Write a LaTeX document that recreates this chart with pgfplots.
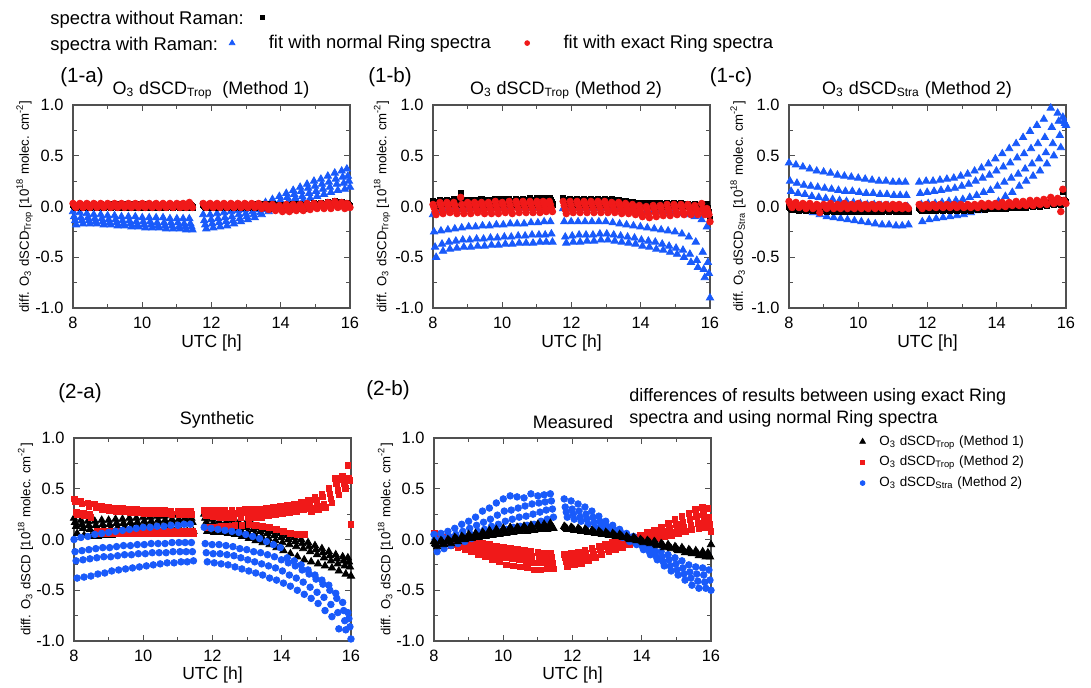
\documentclass[border=0pt]{standalone}
\usepackage{fontspec}
\setmainfont{Liberation Sans}
\usepackage{pgfplots}
\usepackage{pgfplotstable}
\pgfplotsset{compat=1.18}
\definecolor{mblue}{RGB}{25,90,250}
\definecolor{mred}{RGB}{240,25,25}
\definecolor{axgray}{RGB}{80,80,80}

\pgfplotsset{
 panel/.style={
  scale only axis, width=138.5pt, height=101.5pt, anchor=south west,
  xmin=8, xmax=16, ymin=-1, ymax=1,
  xtick={8,10,12,14,16}, minor xtick={9,11,13,15},
  ytick={-1,-0.5,0,0.5,1}, minor ytick={-0.75,-0.25,0.25,0.75},
  tick align=inside, major tick length=3pt, minor tick length=1.8pt,
  axis line style={axgray, line width=0.6pt},
  tick style={axgray, line width=0.5pt},
  /pgf/number format/assume math mode=true,
  y tick label style={/pgf/number format/.cd, fixed, fixed zerofill, precision=1, /tikz/.cd, xshift=-1.2pt},
  x tick label style={yshift=-1pt},
  tick label style={font=\fontsize{8.2}{9.5}\selectfont},
  ylabel style={font=\fontsize{6.6}{7.5}\selectfont, at={(axis description cs:-0.175,0.5)}, anchor=center},
  xlabel style={font=\fontsize{8.75}{10}\selectfont, anchor=center},
  xlabel={UTC [h]},
  clip=false,
  legend image code/.code={\draw[##1] plot coordinates {(0pt,0pt)};},
 },
 btri/.style={only marks, mark=triangle*, mark size=2.1pt, color=mblue},
 rcirc/.style={only marks, mark=*, mark size=1.65pt, color=mred},
 ksq/.style={only marks, mark=square*, mark size=1.35pt, color=black},
 ktri/.style={only marks, mark=triangle*, mark size=2.1pt, color=black},
 rsq/.style={only marks, mark=square*, mark size=1.45pt, color=mred},
 bcirc/.style={only marks, mark=*, mark size=1.65pt, color=mblue},
 btrileg/.style={only marks, mark=triangle*, mark size=1.6pt, color=mblue},
 rcircleg/.style={only marks, mark=*, mark size=1.2pt, color=mred},
 ksqleg/.style={only marks, mark=square*, mark size=1.1pt, color=black},
 ktrileg/.style={only marks, mark=triangle*, mark size=1.6pt, color=black},
 rsqleg/.style={only marks, mark=square*, mark size=1.1pt, color=mred},
 bcircleg/.style={only marks, mark=*, mark size=1.2pt, color=mblue},
}

\newcommand{\fourpts}[3]{%
 \addplot[#3, forget plot] table[x=t, y=#21] {#1};
 \addplot[#3, forget plot] table[x expr=\thisrow{t}+0.03, y=#22] {#1};
 \addplot[#3, forget plot] table[x expr=\thisrow{t}+0.06, y=#23] {#1};
 \addplot[#3, forget plot] table[x expr=\thisrow{t}+0.09, y=#24] {#1};
}

\begin{document}

% Panel (1-a): O3 dSCD_Trop (Method 1); b = normal Ring (blue), k = without Raman (black), r = exact Ring (red)
\pgfplotstableread{
t b1 b2 b3 b4 k1 k2 k3 k4 r1 r2 r3 r4
8.00 -0.05 -0.10 -0.14 -0.18 0.02 0.01 0.00 -0.01 0.03 0.02 0.00 -0.01
8.20 -0.06 -0.11 -0.14 -0.17 0.02 0.01 0.00 -0.01 0.03 0.02 0.01 -0.01
8.40 -0.07 -0.11 -0.14 -0.17 0.02 0.01 0.00 -0.01 0.03 0.02 0.00 -0.01
8.60 -0.08 -0.12 -0.15 -0.17 0.02 0.01 0.00 -0.01 0.03 0.02 0.01 -0.01
8.80 -0.08 -0.12 -0.15 -0.18 0.02 0.01 0.00 -0.01 0.03 0.02 0.00 -0.01
9.00 -0.09 -0.13 -0.16 -0.18 0.02 0.01 0.00 -0.01 0.03 0.02 0.01 -0.01
9.20 -0.09 -0.13 -0.16 -0.19 0.02 0.01 0.00 -0.01 0.03 0.02 0.00 -0.01
9.40 -0.10 -0.14 -0.17 -0.19 0.02 0.01 0.00 -0.01 0.03 0.02 0.01 -0.01
9.60 -0.10 -0.14 -0.17 -0.20 0.02 0.01 0.00 -0.01 0.03 0.02 0.00 -0.01
9.80 -0.10 -0.15 -0.18 -0.20 0.02 0.01 0.00 -0.01 0.03 0.02 0.01 -0.01
10.00 -0.11 -0.15 -0.18 -0.21 0.02 0.01 0.00 -0.01 0.03 0.02 0.00 -0.01
10.20 -0.11 -0.15 -0.18 -0.21 0.02 0.01 0.00 -0.01 0.03 0.02 0.01 -0.01
10.40 -0.11 -0.16 -0.19 -0.21 0.02 0.01 0.00 -0.01 0.03 0.02 0.00 -0.01
10.60 -0.11 -0.16 -0.19 -0.22 0.02 0.01 0.00 -0.01 0.03 0.02 0.01 -0.01
10.80 -0.12 -0.16 -0.19 -0.22 0.02 0.01 0.00 -0.01 0.03 0.02 0.00 -0.01
11.00 -0.12 -0.16 -0.20 -0.22 0.02 0.01 0.00 -0.01 0.03 0.02 0.01 -0.01
11.18 -0.12 -0.17 -0.20 -0.23 0.02 0.01 0.00 -0.01 0.03 0.02 0.00 -0.01
11.36 -0.12 -0.17 -0.20 -0.23 0.02 0.01 0.00 -0.01 0.04 0.02 0.01 -0.01
11.76 -0.08 -0.14 -0.18 -0.22 0.02 0.01 0.00 -0.01 0.03 0.02 0.00 -0.01
11.96 -0.08 -0.13 -0.17 -0.21 0.02 0.01 0.00 -0.01 0.03 0.02 0.01 -0.01
12.16 -0.07 -0.12 -0.16 -0.20 0.02 0.01 0.00 -0.01 0.03 0.02 0.00 -0.01
12.36 -0.06 -0.11 -0.15 -0.19 0.02 0.01 0.00 -0.01 0.03 0.02 0.01 -0.01
12.56 -0.05 -0.10 -0.14 -0.17 0.02 0.01 0.00 -0.01 0.03 0.02 0.00 -0.01
12.76 -0.04 -0.08 -0.12 -0.15 0.02 0.01 0.00 -0.01 0.03 0.02 0.01 -0.01
12.96 -0.03 -0.07 -0.10 -0.13 0.02 0.01 0.00 -0.01 0.03 0.02 0.00 -0.01
13.16 -0.01 -0.05 -0.08 -0.11 0.02 0.01 0.00 -0.01 0.03 0.02 0.01 -0.01
13.36 0.01 -0.03 -0.06 -0.08 0.02 0.01 0.00 -0.01 0.03 0.01 0.00 -0.02
13.56 0.04 0.00 -0.03 -0.05 0.02 0.00 -0.01 -0.02 0.02 0.01 -0.01 -0.03
13.76 0.07 0.03 0.00 -0.02 0.02 0.00 -0.01 -0.02 0.02 0.00 -0.02 -0.04
13.96 0.10 0.06 0.03 0.00 0.01 0.00 -0.01 -0.03 0.01 -0.01 -0.03 -0.05
14.16 0.13 0.09 0.05 0.02 0.01 0.00 -0.01 -0.03 0.02 0.00 -0.03 -0.05
14.36 0.16 0.12 0.08 0.04 0.02 0.00 -0.01 -0.02 0.02 0.00 -0.02 -0.04
14.56 0.19 0.15 0.10 0.06 0.02 0.01 0.00 -0.02 0.02 0.00 -0.02 -0.04
14.76 0.22 0.18 0.13 0.08 0.02 0.01 0.00 -0.01 0.03 0.01 -0.01 -0.03
14.96 0.25 0.20 0.15 0.10 0.03 0.02 0.01 0.00 0.03 0.01 0.00 -0.02
15.16 0.27 0.22 0.17 0.12 0.03 0.02 0.01 0.00 0.03 0.02 0.00 -0.02
15.36 0.30 0.24 0.19 0.14 0.04 0.03 0.02 0.01 0.04 0.02 0.00 -0.02
15.56 0.33 0.27 0.22 0.16 0.05 0.04 0.02 0.01 0.05 0.03 0.01 -0.01
15.76 0.35 0.29 0.23 0.17 0.04 0.03 0.02 0.01 0.04 0.02 0.00 -0.02
15.91 0.37 0.30 0.25 0.19 0.03 0.02 0.01 0.00 0.03 0.02 0.00 -0.01
}\tabA

% Panel (1-b): O3 dSCD_Trop (Method 2)
\pgfplotstableread{
t b1 b2 b3 b4 k1 k2 k3 k4 r1 r2 r3 r4
8.00 -0.08 -0.25 -0.40 -0.50 0.05 0.04 0.02 0.00 0.02 -0.01 -0.05 -0.08
8.20 -0.05 -0.24 -0.37 -0.44 0.06 0.05 0.03 0.02 0.04 0.01 -0.03 -0.07
8.40 -0.04 -0.23 -0.35 -0.42 0.06 0.05 0.03 0.02 0.04 0.01 -0.03 -0.06
8.60 -0.03 -0.22 -0.34 -0.41 0.07 0.05 0.03 0.02 0.04 0.01 -0.03 -0.07
8.80 -0.03 -0.21 -0.33 -0.40 0.13 0.06 0.04 0.02 0.09 0.02 -0.03 -0.07
9.00 -0.03 -0.20 -0.33 -0.40 0.06 0.05 0.03 0.02 0.04 0.01 -0.03 -0.07
9.20 -0.02 -0.20 -0.32 -0.39 0.06 0.05 0.03 0.02 0.04 0.01 -0.03 -0.06
9.40 -0.02 -0.19 -0.32 -0.39 0.07 0.05 0.03 0.02 0.04 0.01 -0.03 -0.07
9.60 -0.02 -0.19 -0.31 -0.38 0.06 0.05 0.03 0.02 0.04 0.01 -0.03 -0.07
9.80 -0.02 -0.18 -0.31 -0.38 0.07 0.05 0.03 0.02 0.05 0.01 -0.03 -0.07
10.00 -0.02 -0.18 -0.30 -0.37 0.07 0.05 0.03 0.02 0.04 0.01 -0.03 -0.06
10.20 -0.02 -0.17 -0.30 -0.37 0.07 0.05 0.03 0.02 0.05 0.01 -0.03 -0.07
10.40 -0.01 -0.17 -0.29 -0.36 0.07 0.06 0.04 0.02 0.05 0.02 -0.02 -0.06
10.60 -0.01 -0.17 -0.29 -0.36 0.07 0.06 0.04 0.02 0.05 0.02 -0.02 -0.06
10.80 -0.01 -0.16 -0.28 -0.36 0.08 0.06 0.04 0.02 0.05 0.02 -0.02 -0.06
11.00 -0.01 -0.16 -0.28 -0.35 0.08 0.06 0.04 0.02 0.05 0.02 -0.02 -0.06
11.18 -0.01 -0.15 -0.28 -0.35 0.08 0.06 0.04 0.02 0.05 0.02 -0.02 -0.05
11.36 -0.01 -0.15 -0.27 -0.35 0.08 0.06 0.04 0.02 0.05 0.02 -0.02 -0.05
11.76 -0.02 -0.15 -0.30 -0.36 0.08 0.06 0.04 0.02 0.05 0.01 -0.03 -0.07
11.96 -0.02 -0.15 -0.29 -0.35 0.07 0.06 0.04 0.02 0.05 0.01 -0.03 -0.06
12.16 -0.02 -0.15 -0.28 -0.35 0.07 0.06 0.04 0.02 0.05 0.02 -0.02 -0.06
12.36 -0.02 -0.15 -0.28 -0.34 0.07 0.06 0.04 0.02 0.05 0.02 -0.02 -0.06
12.56 -0.02 -0.15 -0.28 -0.34 0.07 0.06 0.04 0.02 0.05 0.02 -0.02 -0.06
12.76 -0.02 -0.15 -0.27 -0.33 0.07 0.06 0.04 0.02 0.05 0.02 -0.02 -0.06
12.96 -0.02 -0.15 -0.27 -0.33 0.07 0.06 0.04 0.02 0.05 0.02 -0.02 -0.06
13.16 -0.02 -0.16 -0.28 -0.34 0.07 0.05 0.03 0.02 0.04 0.01 -0.03 -0.06
13.36 -0.03 -0.17 -0.29 -0.35 0.06 0.05 0.03 0.01 0.04 0.01 -0.03 -0.07
13.56 -0.03 -0.18 -0.30 -0.36 0.05 0.04 0.02 0.01 0.03 0.00 -0.04 -0.07
13.76 -0.04 -0.19 -0.31 -0.37 0.04 0.03 0.02 0.00 0.02 -0.01 -0.05 -0.08
13.96 -0.04 -0.20 -0.33 -0.39 0.03 0.02 0.01 0.00 0.01 -0.03 -0.07 -0.10
14.16 -0.05 -0.21 -0.34 -0.40 0.03 0.02 0.01 0.00 0.00 -0.03 -0.07 -0.11
14.36 -0.05 -0.22 -0.35 -0.42 0.03 0.02 0.01 0.00 0.01 -0.02 -0.06 -0.10
14.56 -0.05 -0.23 -0.37 -0.43 0.03 0.02 0.01 0.00 0.01 -0.02 -0.06 -0.09
14.76 -0.06 -0.24 -0.39 -0.45 0.03 0.02 0.01 0.00 0.02 -0.02 -0.05 -0.09
14.96 -0.06 -0.25 -0.41 -0.47 0.03 0.02 0.01 0.00 0.02 -0.01 -0.05 -0.08
15.16 -0.07 -0.27 -0.43 -0.50 0.03 0.02 0.01 0.00 0.02 -0.01 -0.05 -0.08
15.36 -0.08 -0.30 -0.47 -0.55 0.02 0.01 0.00 -0.01 0.02 -0.01 -0.05 -0.08
15.56 -0.10 -0.35 -0.53 -0.60 0.02 0.01 0.00 -0.01 0.01 -0.02 -0.05 -0.08
15.76 -0.13 -0.45 -0.62 -0.70 0.02 0.01 0.00 -0.02 0.03 -0.02 -0.05 -0.08
15.91 -0.20 -0.55 -0.66 -0.90 0.02 -0.02 -0.06 -0.12 -0.02 -0.05 -0.08 -0.15
}\tabB

% Panel (1-c): O3 dSCD_Stra (Method 2)
\pgfplotstableread{
t b1 b2 b3 b4 k1 k2 k3 k4 r1 r2 r3 r4
8.00 0.43 0.25 0.15 0.00 0.00 -0.01 -0.02 -0.03 0.05 0.03 0.01 -0.01
8.20 0.41 0.23 0.13 -0.02 -0.01 -0.02 -0.03 -0.04 0.04 0.02 0.01 -0.01
8.40 0.39 0.21 0.12 -0.04 -0.01 -0.02 -0.03 -0.04 0.03 0.02 0.00 -0.02
8.60 0.37 0.20 0.10 -0.06 -0.01 -0.02 -0.03 -0.04 0.03 0.01 0.00 -0.02
8.80 0.35 0.19 0.09 -0.08 -0.02 -0.03 -0.04 -0.05 0.02 0.01 -0.01 -0.06
9.00 0.34 0.18 0.08 -0.10 -0.02 -0.03 -0.04 -0.05 0.02 0.01 -0.01 -0.02
9.20 0.33 0.17 0.07 -0.11 -0.02 -0.03 -0.04 -0.05 0.03 0.01 0.00 -0.02
9.40 0.31 0.16 0.06 -0.12 -0.02 -0.03 -0.04 -0.05 0.02 0.01 -0.01 -0.02
9.60 0.30 0.15 0.05 -0.13 -0.02 -0.03 -0.04 -0.05 0.03 0.01 0.00 -0.02
9.80 0.29 0.15 0.04 -0.14 -0.02 -0.03 -0.04 -0.05 0.02 0.01 -0.01 -0.02
10.00 0.28 0.14 0.03 -0.15 -0.02 -0.03 -0.04 -0.05 0.03 0.01 0.00 -0.02
10.20 0.27 0.13 0.02 -0.16 -0.02 -0.03 -0.04 -0.05 0.02 0.01 -0.01 -0.02
10.40 0.26 0.13 0.02 -0.17 -0.02 -0.03 -0.04 -0.05 0.02 0.01 0.00 -0.02
10.60 0.25 0.12 0.01 -0.18 -0.02 -0.03 -0.04 -0.05 0.02 0.01 -0.01 -0.02
10.80 0.25 0.12 0.01 -0.18 -0.02 -0.03 -0.04 -0.05 0.02 0.01 0.00 -0.02
11.00 0.24 0.11 0.00 -0.19 -0.02 -0.03 -0.04 -0.05 0.02 0.00 -0.01 -0.02
11.18 0.24 0.11 0.00 -0.19 -0.02 -0.03 -0.04 -0.05 0.02 0.00 -0.01 -0.02
11.36 0.24 0.11 0.00 -0.18 -0.02 -0.03 -0.04 -0.05 0.01 0.00 -0.01 -0.02
11.76 0.24 0.13 0.02 -0.15 -0.01 -0.02 -0.03 -0.04 0.02 0.01 0.00 -0.02
11.96 0.25 0.14 0.03 -0.13 -0.01 -0.02 -0.03 -0.04 0.02 0.01 0.00 -0.01
12.16 0.25 0.15 0.03 -0.12 -0.01 -0.02 -0.03 -0.04 0.02 0.01 0.00 -0.01
12.36 0.26 0.16 0.04 -0.11 -0.01 -0.02 -0.03 -0.04 0.02 0.01 0.00 -0.01
12.56 0.27 0.17 0.05 -0.10 -0.01 -0.02 -0.03 -0.04 0.02 0.01 0.00 -0.01
12.76 0.28 0.18 0.06 -0.09 -0.01 -0.02 -0.03 -0.04 0.02 0.01 0.00 -0.01
12.96 0.30 0.20 0.07 -0.08 -0.01 -0.02 -0.03 -0.04 0.02 0.01 0.00 -0.01
13.16 0.32 0.22 0.09 -0.06 -0.01 -0.02 -0.03 -0.04 0.02 0.01 0.00 -0.01
13.36 0.35 0.25 0.11 -0.04 0.00 -0.01 -0.02 -0.03 0.02 0.01 0.00 -0.01
13.56 0.38 0.28 0.14 -0.02 0.00 -0.01 -0.02 -0.03 0.03 0.02 0.01 0.00
13.76 0.42 0.31 0.16 0.00 0.01 0.00 -0.01 -0.02 0.03 0.02 0.01 0.00
13.96 0.47 0.35 0.20 0.05 0.01 0.00 -0.01 -0.02 0.03 0.02 0.01 0.00
14.16 0.52 0.39 0.24 0.10 0.01 0.00 -0.01 -0.02 0.04 0.02 0.01 0.00
14.36 0.57 0.43 0.28 0.14 0.02 0.01 0.00 -0.01 0.04 0.03 0.02 0.01
14.56 0.62 0.48 0.32 0.20 0.02 0.01 0.00 -0.01 0.05 0.03 0.02 0.01
14.76 0.68 0.52 0.37 0.25 0.02 0.01 0.00 -0.01 0.05 0.03 0.02 0.01
14.96 0.74 0.57 0.42 0.30 0.03 0.02 0.01 0.00 0.06 0.04 0.02 0.01
15.16 0.80 0.62 0.47 0.35 0.03 0.02 0.01 0.00 0.06 0.04 0.03 0.02
15.36 0.86 0.68 0.53 0.42 0.04 0.03 0.02 0.01 0.07 0.05 0.03 0.02
15.56 0.97 0.78 0.62 0.50 0.05 0.04 0.03 0.02 0.09 0.07 0.05 0.03
15.76 0.92 0.84 0.70 0.58 0.05 0.04 0.03 0.02 0.08 0.06 0.04 -0.05
15.91 0.88 0.84 0.82 0.80 0.15 0.06 0.05 0.04 0.17 0.06 0.04 0.03
}\tabC

% Panel (2-a): Synthetic; k = Trop M1 (black), r = Trop M2 (red), b = Stra M2 (blue)
\pgfplotstableread{
t k1 k2 k3 k4 r1 r2 r3 r4 b1 b2 b3 b4
8.00 0.21 0.17 0.13 0.06 0.40 0.37 0.27 0.25 0.00 -0.12 -0.21 -0.38
8.20 0.19 0.15 0.11 0.04 0.38 0.35 0.26 0.24 0.02 -0.11 -0.20 -0.37
8.40 0.18 0.14 0.10 0.03 0.36 0.33 0.25 0.22 0.03 -0.10 -0.19 -0.36
8.60 0.18 0.14 0.10 0.03 0.35 0.32 0.08 0.06 0.05 -0.09 -0.18 -0.34
8.80 0.19 0.15 0.11 0.04 0.33 0.30 0.08 0.06 0.06 -0.08 -0.17 -0.33
9.00 0.19 0.15 0.11 0.04 0.32 0.29 0.08 0.06 0.07 -0.08 -0.17 -0.31
9.20 0.20 0.16 0.12 0.05 0.31 0.28 0.08 0.06 0.08 -0.07 -0.16 -0.30
9.40 0.20 0.16 0.12 0.05 0.31 0.28 0.08 0.06 0.09 -0.06 -0.15 -0.29
9.60 0.21 0.17 0.13 0.06 0.30 0.27 0.08 0.06 0.10 -0.06 -0.15 -0.28
9.80 0.21 0.17 0.13 0.06 0.30 0.27 0.08 0.06 0.11 -0.05 -0.14 -0.27
10.00 0.22 0.18 0.14 0.07 0.29 0.26 0.08 0.06 0.12 -0.05 -0.14 -0.26
10.20 0.22 0.18 0.14 0.07 0.29 0.26 0.08 0.06 0.12 -0.04 -0.13 -0.25
10.40 0.23 0.19 0.15 0.07 0.29 0.26 0.08 0.06 0.13 -0.04 -0.13 -0.24
10.60 0.23 0.19 0.15 0.08 0.29 0.26 0.08 0.06 0.13 -0.04 -0.13 -0.23
10.80 0.24 0.20 0.16 0.08 0.28 0.25 0.08 0.06 0.14 -0.03 -0.12 -0.23
11.00 0.24 0.20 0.16 0.08 0.28 0.25 0.08 0.06 0.14 -0.03 -0.12 -0.22
11.18 0.25 0.21 0.17 0.08 0.28 0.25 0.08 0.06 0.15 -0.03 -0.12 -0.22
11.36 0.25 0.21 0.17 0.08 0.28 0.25 0.08 0.06 0.15 -0.03 -0.12 -0.21
11.76 0.25 0.21 0.17 0.08 0.29 0.26 0.24 0.12 0.12 -0.04 -0.13 -0.22
11.96 0.24 0.20 0.16 0.07 0.29 0.26 0.23 0.12 0.11 -0.05 -0.14 -0.23
12.16 0.22 0.18 0.14 0.07 0.29 0.26 0.22 0.13 0.10 -0.05 -0.14 -0.24
12.36 0.21 0.17 0.13 0.06 0.29 0.26 0.22 0.13 0.09 -0.06 -0.15 -0.25
12.56 0.19 0.15 0.11 0.05 0.29 0.26 0.22 0.14 0.08 -0.07 -0.16 -0.27
12.76 0.17 0.13 0.09 0.03 0.29 0.26 0.22 0.14 0.07 -0.09 -0.18 -0.29
12.96 0.16 0.12 0.07 0.01 0.30 0.27 0.22 0.15 0.05 -0.10 -0.20 -0.31
13.16 0.14 0.10 0.05 -0.01 0.30 0.27 0.22 0.14 0.03 -0.12 -0.22 -0.33
13.36 0.12 0.08 0.03 -0.03 0.30 0.27 0.22 0.13 0.01 -0.13 -0.24 -0.35
13.56 0.10 0.06 0.01 -0.05 0.31 0.28 0.24 0.12 -0.02 -0.15 -0.26 -0.38
13.76 0.08 0.04 -0.01 -0.08 0.32 0.29 0.25 0.10 -0.05 -0.17 -0.28 -0.40
13.96 0.06 0.02 -0.03 -0.11 0.33 0.30 0.26 0.08 -0.08 -0.20 -0.31 -0.43
14.16 0.04 0.00 -0.05 -0.14 0.34 0.31 0.27 0.06 -0.18 -0.23 -0.35 -0.46
14.36 0.02 -0.02 -0.07 -0.17 0.35 0.32 0.28 0.05 -0.21 -0.26 -0.38 -0.50
14.56 0.00 -0.04 -0.09 -0.20 0.37 0.34 0.30 0.05 -0.25 -0.30 -0.42 -0.54
14.76 -0.03 -0.07 -0.12 -0.22 0.39 0.36 0.31 0.28 -0.30 -0.34 -0.47 -0.58
14.96 -0.06 -0.10 -0.15 -0.24 0.42 0.39 0.33 0.30 -0.35 -0.39 -0.52 -0.63
15.16 -0.09 -0.13 -0.18 -0.26 0.45 0.42 0.35 0.32 -0.40 -0.44 -0.57 -0.70
15.36 -0.12 -0.16 -0.21 -0.28 0.50 0.45 0.40 0.36 -0.45 -0.50 -0.64 -0.76
15.56 -0.15 -0.19 -0.24 -0.31 0.60 0.55 0.48 0.44 -0.53 -0.58 -0.72 -0.88
15.76 -0.17 -0.21 -0.26 -0.34 0.62 0.59 0.55 0.50 -0.62 -0.70 -0.80 -0.89
15.91 -0.18 -0.22 -0.27 -0.36 0.73 0.60 0.58 0.15 -0.72 -0.78 -0.86 -0.98
}\tabD

% Panel (2-b): Measured
\pgfplotstableread{
t k1 k2 k3 k4 r1 r2 r3 r4 b1 b2 b3 b4
8.00 -0.02 -0.04 -0.05 -0.07 0.06 0.03 0.00 -0.03 0.05 0.00 -0.05 -0.12
8.20 -0.01 -0.02 -0.04 -0.05 0.05 0.02 -0.01 -0.04 0.06 0.02 -0.03 -0.09
8.40 0.00 -0.01 -0.02 -0.04 0.03 0.00 -0.03 -0.06 0.08 0.03 -0.02 -0.06
8.60 0.02 0.01 0.00 -0.02 0.02 -0.02 -0.05 -0.08 0.11 0.05 0.00 -0.04
8.80 0.03 0.02 0.01 0.00 0.00 -0.04 -0.07 -0.10 0.15 0.08 0.03 -0.02
9.00 0.05 0.03 0.02 0.01 -0.01 -0.05 -0.09 -0.12 0.18 0.11 0.05 0.01
9.20 0.06 0.04 0.03 0.02 -0.03 -0.07 -0.11 -0.15 0.22 0.14 0.08 0.03
9.40 0.07 0.06 0.04 0.03 -0.04 -0.08 -0.13 -0.17 0.28 0.17 0.10 0.05
9.60 0.09 0.07 0.05 0.04 -0.05 -0.10 -0.15 -0.20 0.31 0.20 0.13 0.07
9.80 0.10 0.08 0.06 0.05 -0.07 -0.11 -0.16 -0.22 0.36 0.24 0.15 0.08
10.00 0.11 0.09 0.07 0.06 -0.08 -0.13 -0.18 -0.25 0.40 0.28 0.18 0.10
10.20 0.12 0.10 0.08 0.07 -0.09 -0.14 -0.19 -0.26 0.43 0.29 0.20 0.12
10.40 0.12 0.11 0.09 0.08 -0.10 -0.15 -0.20 -0.27 0.42 0.31 0.22 0.13
10.60 0.13 0.11 0.10 0.08 -0.11 -0.16 -0.22 -0.28 0.41 0.33 0.23 0.14
10.80 0.14 0.12 0.10 0.09 -0.12 -0.17 -0.23 -0.30 0.45 0.35 0.25 0.15
11.00 0.15 0.13 0.11 0.10 -0.13 -0.17 -0.23 -0.30 0.43 0.36 0.27 0.18
11.18 0.15 0.13 0.12 0.10 -0.14 -0.18 -0.23 -0.29 0.44 0.37 0.29 0.20
11.36 0.16 0.14 0.12 0.11 -0.14 -0.18 -0.23 -0.29 0.45 0.38 0.30 0.22
11.76 0.13 0.12 0.11 0.10 -0.15 -0.18 -0.22 -0.27 0.40 0.32 0.27 0.22
11.96 0.12 0.11 0.10 0.09 -0.14 -0.17 -0.21 -0.25 0.38 0.30 0.25 0.20
12.16 0.11 0.10 0.09 0.08 -0.13 -0.16 -0.20 -0.24 0.35 0.28 0.22 0.18
12.36 0.10 0.09 0.08 0.07 -0.11 -0.14 -0.18 -0.21 0.32 0.25 0.20 0.15
12.56 0.09 0.08 0.07 0.06 -0.09 -0.12 -0.15 -0.18 0.28 0.22 0.17 0.12
12.76 0.08 0.07 0.06 0.05 -0.07 -0.10 -0.13 -0.15 0.23 0.18 0.14 0.10
12.96 0.07 0.06 0.05 0.04 -0.05 -0.07 -0.10 -0.12 0.18 0.13 0.10 0.07
13.16 0.06 0.05 0.04 0.03 -0.03 -0.05 -0.08 -0.10 0.14 0.10 0.07 0.05
13.36 0.05 0.04 0.03 0.02 -0.02 -0.04 -0.06 -0.08 0.10 0.07 0.04 0.02
13.56 0.03 0.02 0.01 0.00 0.00 -0.02 -0.04 -0.05 0.06 0.03 0.01 -0.02
13.76 0.02 0.01 0.00 -0.01 0.02 0.00 -0.02 -0.03 0.03 0.00 -0.03 -0.05
13.96 0.00 -0.01 -0.02 -0.03 0.04 0.02 0.00 -0.01 -0.01 -0.04 -0.07 -0.10
14.16 -0.01 -0.02 -0.03 -0.04 0.07 0.04 0.02 0.00 -0.05 -0.08 -0.12 -0.15
14.36 -0.02 -0.03 -0.05 -0.06 0.09 0.06 0.03 0.01 -0.08 -0.12 -0.17 -0.20
14.56 -0.04 -0.05 -0.06 -0.08 0.12 0.08 0.05 0.03 -0.12 -0.17 -0.22 -0.26
14.76 -0.05 -0.07 -0.08 -0.09 0.16 0.11 0.07 0.04 -0.15 -0.20 -0.26 -0.31
14.96 -0.07 -0.08 -0.10 -0.11 0.20 0.15 0.10 0.06 -0.18 -0.24 -0.30 -0.35
15.16 -0.08 -0.10 -0.11 -0.13 0.23 0.17 0.12 0.08 -0.21 -0.28 -0.34 -0.40
15.36 -0.10 -0.11 -0.13 -0.14 0.26 0.20 0.14 0.10 -0.25 -0.32 -0.38 -0.45
15.56 -0.11 -0.13 -0.14 -0.16 0.30 0.23 0.16 0.11 -0.27 -0.34 -0.41 -0.48
15.76 -0.12 -0.14 -0.16 -0.17 0.32 0.25 0.18 0.12 -0.28 -0.35 -0.42 -0.48
15.91 -0.13 -0.15 -0.17 -0.05 0.31 0.22 0.15 0.08 -0.15 -0.30 -0.40 -0.50
}\tabE

\begin{tikzpicture}[x=0.5pt,y=0.5pt]
\useasboundingbox (0,0) rectangle (1091,687);

% ---------- (1-a)
\begin{axis}[panel, at={(36.5pt,189.5pt)},
  xlabel style={at={(axis description cs:0.5,-0.172)}},
  ylabel={diff. O\textsubscript{3} dSCD\textsubscript{Trop} [10\textsuperscript{18} molec. cm\textsuperscript{-2}]},
  legend columns=-1,
  legend style={at={(axis description cs:0.563,1.305)}, anchor=west, draw=none, fill=none, inner sep=0pt,
    cells={inner sep=0pt},
    font=\fontsize{9.2}{11}\selectfont,
    /tikz/every even column/.append style={column sep=15pt},
    /tikz/every odd column/.append style={column sep=15pt}},
]
\fourpts{\tabA}{b}{btri}
\fourpts{\tabA}{k}{ksq}
\fourpts{\tabA}{r}{rcirc}
\addlegendimage{btrileg}\addlegendentry{fit with normal Ring spectra}
\addlegendimage{rcircleg}\addlegendentry{fit with exact Ring spectra}
\end{axis}

% ---------- (1-b)
\begin{axis}[panel, at={(216.5pt,189.5pt)},
  xlabel style={at={(axis description cs:0.5,-0.172)}},
  ylabel style={at={(axis description cs:-0.184,0.5)}},
  ylabel={diff. O\textsubscript{3} dSCD\textsubscript{Trop} [10\textsuperscript{18} molec. cm\textsuperscript{-2}]},
  legend style={at={(axis description cs:-0.625,1.433)}, anchor=west, draw=none, fill=none, inner sep=0pt,
    cells={inner sep=0pt}, font=\fontsize{9.2}{11}\selectfont},
]
\fourpts{\tabB}{b}{btri}
\fourpts{\tabB}{k}{ksq}
\fourpts{\tabB}{r}{rcirc}
\addlegendimage{ksqleg}\addlegendentry{}
\end{axis}

% ---------- (1-c)
\begin{axis}[panel, at={(394.5pt,189.5pt)},
  xlabel style={at={(axis description cs:0.5,-0.172)}},
  ylabel style={at={(axis description cs:-0.184,0.5)}},
  ylabel={diff. O\textsubscript{3} dSCD\textsubscript{Stra} [10\textsuperscript{18} molec. cm\textsuperscript{-2}]},
]
\fourpts{\tabC}{b}{btri}
\fourpts{\tabC}{k}{ksq}
\fourpts{\tabC}{r}{rcirc}
\end{axis}

% ---------- (2-a)
\begin{axis}[panel, at={(37pt,23pt)},
  xlabel style={at={(axis description cs:0.5,-0.168)}},
  ylabel={diff. O\textsubscript{3} dSCD [10\textsuperscript{18} molec. cm\textsuperscript{-2}]},
]
\fourpts{\tabD}{k}{ktri}
\fourpts{\tabD}{r}{rsq}
\fourpts{\tabD}{b}{bcirc}
\end{axis}

% ---------- (2-b)
\begin{axis}[panel, at={(217pt,23pt)},
  xlabel style={at={(axis description cs:0.5,-0.168)}},
  ylabel={diff. O\textsubscript{3} dSCD [10\textsuperscript{18} molec. cm\textsuperscript{-2}]},
  legend cell align=left,
  legend style={at={(axis description cs:1.536,1.035)}, anchor=north west, draw=none, fill=none, inner sep=0pt,
    font=\fontsize{6.7}{7.5}\selectfont, row sep=0pt,
    /tikz/every odd column/.append style={column sep=5pt}},
]
\fourpts{\tabE}{r}{rsq}
\fourpts{\tabE}{b}{bcirc}
\fourpts{\tabE}{k}{ktri}
\addlegendimage{ktrileg}\addlegendentry{O\textsubscript{3} dSCD\textsubscript{Trop} (Method 1)}
\addlegendimage{rsqleg}\addlegendentry{O\textsubscript{3} dSCD\textsubscript{Trop} (Method 2)}
\addlegendimage{bcircleg}\addlegendentry{O\textsubscript{3} dSCD\textsubscript{Stra} (Method 2)}
\end{axis}

% ---------- texts
\node[anchor=west, inner sep=0pt, font=\fontsize{9.2}{11}\selectfont] at (50,667) {spectra without Raman:};
\node[anchor=west, inner sep=0pt, font=\fontsize{9.2}{11}\selectfont] at (50,641) {spectra with Raman:};
\node[font=\fontsize{10.3}{12}\selectfont] at (82,610) {(1-a)};
\node[font=\fontsize{10.3}{12}\selectfont] at (390,610) {(1-b)};
\node[font=\fontsize{10.3}{12}\selectfont] at (731,610) {(1-c)};
\node[font=\fontsize{10.3}{12}\selectfont] at (80,294) {(2-a)};
\node[font=\fontsize{10.3}{12}\selectfont] at (388,297) {(2-b)};
\node[font=\fontsize{9}{11}\selectfont] at (211,597) {O\textsubscript{3} dSCD\textsubscript{Trop}\ \ (Method 1)};
\node[font=\fontsize{9}{11}\selectfont] at (566,597) {O\textsubscript{3} dSCD\textsubscript{Trop} (Method 2)};
\node[font=\fontsize{9}{11}\selectfont] at (917,597) {O\textsubscript{3} dSCD\textsubscript{Stra} (Method 2)};
\node[font=\fontsize{9}{11}\selectfont] at (217,267) {Synthetic};
\node[font=\fontsize{9}{11}\selectfont] at (573,265) {Measured};
\node[anchor=west, inner sep=0pt, font=\fontsize{9}{10.5}\selectfont] at (629,290) {differences of results between using exact Ring};
\node[anchor=west, inner sep=0pt, font=\fontsize{9}{10.5}\selectfont] at (629,268) {spectra and using normal Ring spectra};
\end{tikzpicture}
\end{document}
